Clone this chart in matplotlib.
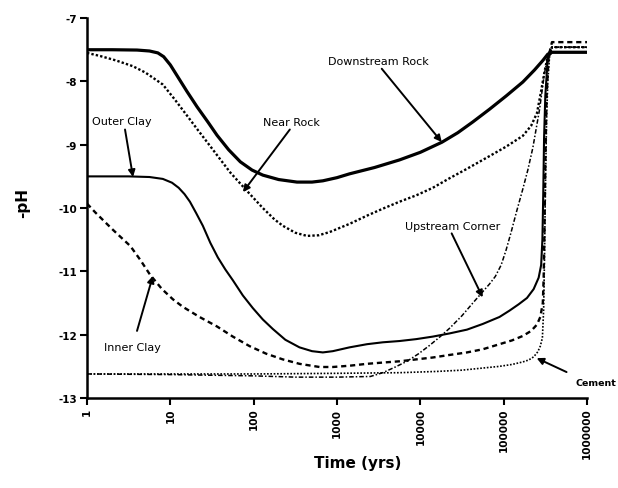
import numpy as np
import matplotlib
matplotlib.use("Agg")
import matplotlib.pyplot as plt

plt.rcParams["axes.unicode_minus"] = False

# Time axis values are given as log10(years)
downstream_rock_logt = [0.0, 0.3, 0.6, 0.75, 0.85, 0.92, 1.0, 1.1, 1.2, 1.32, 1.45, 1.56, 1.7, 1.84,
                        1.98, 2.11, 2.3, 2.52, 2.7, 2.83, 3.0, 3.15, 3.45, 3.75, 4.0, 4.26, 4.45,
                        4.63, 4.83, 5.03, 5.23, 5.37, 5.47, 5.53, 5.58, 6.0]
downstream_rock_ph = [-7.5, -7.5, -7.505, -7.52, -7.55, -7.61, -7.74, -7.95, -8.16, -8.4, -8.64, -8.85,
                      -9.08, -9.27, -9.4, -9.48, -9.55, -9.59, -9.59, -9.57, -9.52, -9.46, -9.36, -9.24,
                      -9.12, -8.96, -8.81, -8.64, -8.44, -8.23, -8.01, -7.82, -7.67, -7.57, -7.54, -7.54]

near_rock_logt = [0.0, 0.16, 0.35, 0.55, 0.7, 0.8, 0.91, 1.05, 1.2, 1.32, 1.5, 1.72, 1.92, 2.11,
                  2.25, 2.35, 2.5, 2.64, 2.78, 2.91, 3.15, 3.36, 3.55, 3.75, 3.95, 4.15, 4.35,
                  4.56, 4.83, 5.03, 5.23, 5.33, 5.40, 5.45, 5.49, 5.53, 5.58, 6.0]
near_rock_ph = [-7.55, -7.6, -7.67, -7.76, -7.86, -7.95, -8.05, -8.28, -8.54, -8.75, -9.06, -9.44,
                -9.73, -10.0, -10.18, -10.28, -10.39, -10.44, -10.43, -10.38, -10.25, -10.12, -10.01,
                -9.9, -9.8, -9.68, -9.53, -9.38, -9.18, -9.03, -8.86, -8.7, -8.5, -8.15, -7.85, -7.6,
                -7.46, -7.46]

outer_clay_logt = [0.0, 0.5, 0.75, 0.91, 1.02, 1.1, 1.17, 1.235, 1.31, 1.39, 1.48, 1.57, 1.66, 1.75,
                   1.87, 1.99, 2.11, 2.23, 2.38, 2.55, 2.7, 2.83, 2.95, 3.15, 3.36, 3.55, 3.75, 3.95,
                   4.15, 4.35, 4.56, 4.75, 4.95, 5.07, 5.18, 5.28, 5.36, 5.42, 5.45, 5.465, 5.475,
                   5.485, 5.5, 5.53, 5.58, 6.0]
outer_clay_ph = [-9.5, -9.5, -9.51, -9.54, -9.6, -9.68, -9.78, -9.9, -10.08, -10.28, -10.55, -10.78,
                 -10.97, -11.14, -11.38, -11.58, -11.76, -11.91, -12.08, -12.2, -12.26, -12.28, -12.26,
                 -12.2, -12.15, -12.12, -12.1, -12.07, -12.03, -11.98, -11.92, -11.83, -11.72, -11.62,
                 -11.52, -11.42, -11.28, -11.1, -10.9, -10.5, -9.8, -8.9, -8.23, -7.62, -7.54, -7.54]

inner_clay_logt = [0.0, 0.1, 0.2, 0.3, 0.43, 0.52, 0.64, 0.755, 0.9, 1.03, 1.15, 1.35, 1.56, 1.75,
                   1.95, 2.15, 2.35, 2.55, 2.79, 2.95, 3.15, 3.36, 3.55, 3.75, 3.95, 4.15, 4.35,
                   4.56, 4.75, 4.95, 5.1, 5.23, 5.33, 5.40, 5.44, 5.47, 5.48, 5.49, 5.50, 5.515,
                   5.54, 5.58, 6.0]
inner_clay_ph = [-9.93, -10.07, -10.2, -10.33, -10.49, -10.6, -10.82, -11.05, -11.28, -11.44, -11.56,
                 -11.72, -11.87, -12.03, -12.18, -12.3, -12.39, -12.46, -12.51, -12.51, -12.49, -12.46,
                 -12.44, -12.42, -12.39, -12.36, -12.32, -12.28, -12.23, -12.15, -12.09, -12.02,
                 -11.94, -11.84, -11.72, -11.5, -11.1, -10.33, -9.3, -8.23, -7.6, -7.38, -7.38]

upstream_corner_logt = [0.0, 1.0, 2.0, 2.5, 3.0, 3.4, 3.55, 3.7, 3.84, 3.98, 4.11, 4.23, 4.35, 4.5,
                        4.63, 4.75, 4.83, 4.9, 4.97, 5.03, 5.09, 5.15, 5.23, 5.29, 5.35, 5.43, 5.49,
                        5.54, 5.58, 6.0]
upstream_corner_ph = [-12.62, -12.63, -12.65, -12.67, -12.67, -12.66, -12.6, -12.51, -12.42, -12.3,
                      -12.17, -12.04, -11.9, -11.7, -11.5, -11.32, -11.2, -11.08, -10.9, -10.66,
                      -10.38, -10.08, -9.7, -9.4, -9.05, -8.45, -7.87, -7.56, -7.46, -7.46]

cement_logt = [0.0, 2.0, 3.0, 3.75, 4.2, 4.5, 4.8, 4.95, 5.1, 5.23, 5.3, 5.36, 5.41, 5.44, 5.465,
               5.48, 5.49, 5.5, 5.515, 5.53, 5.55, 5.58, 6.0]
cement_ph = [-12.62, -12.62, -12.61, -12.6, -12.58, -12.56, -12.52, -12.5, -12.47, -12.43, -12.4,
             -12.35, -12.27, -12.18, -12.05, -11.6, -10.8, -9.8, -8.6, -8.0, -7.62, -7.46, -7.46]

x_ticks = [1, 10, 100, 1000, 10000, 100000, 1000000]
x_tick_labels = ["1", "10", "100", "1000", "10000", "100000", "1000000"]
y_ticks = [-13, -12, -11, -10, -9, -8, -7]
y_tick_labels = ["-13", "-12", "-11", "-10", "-9", "-8", "-7"]


def years(logt):
    return 10.0 ** np.asarray(logt)


fig = plt.figure(figsize=(6.18, 4.89), dpi=100)
ax = fig.add_axes([0.1408, 0.184, 0.809, 0.777])

ax.plot(years(downstream_rock_logt), downstream_rock_ph, color="black", lw=2.3,
        solid_joinstyle="round")
ax.plot(years(outer_clay_logt), outer_clay_ph, color="black", lw=1.5, solid_joinstyle="round")
ax.plot(years(near_rock_logt), near_rock_ph, color="black", lw=1.7, linestyle=(0, (1, 0.9)))
ax.plot(years(inner_clay_logt), inner_clay_ph, color="black", lw=1.7, linestyle=(0, (2.2, 1.6)))
ax.plot(years(upstream_corner_logt), upstream_corner_ph, color="black", lw=1.1,
        linestyle=(0, (3, 1.3, 1, 1.3)))
ax.plot(years(cement_logt), cement_ph, color="black", lw=1.2, linestyle=(0, (1, 1)))

ax.set_xscale("log")
ax.set_xlim(1, 1e6)
ax.set_ylim(-13, -7)
ax.set_xticks(x_ticks)
ax.set_xticklabels(x_tick_labels, rotation=90, fontsize=7.5, fontweight="bold")
ax.set_yticks(y_ticks)
ax.set_yticklabels(y_tick_labels, fontsize=7.5, fontweight="bold")
ax.minorticks_off()
ax.tick_params(axis="both", direction="out", length=5, width=1.5, pad=2, color="black")

for side in ("top", "right"):
    ax.spines[side].set_visible(False)
for side in ("left", "bottom"):
    ax.spines[side].set_linewidth(1.8)

fig.text(0.036, 0.585, "-pH", rotation=90, ha="center", va="center", fontsize=11, fontweight="bold")
fig.text(0.578, 0.053, "Time (yrs)", ha="center", va="center", fontsize=11, fontweight="bold")

# curve labels with pointer arrows (log10 time, -pH)
labels = [
    ("Downstream Rock", (3.50, -7.68), (3.537, -7.80), (4.257, -8.958), "normal", 8),
    ("Near Rock", (2.45, -8.64), (2.434, -8.76), (1.871, -9.748), "normal", 8),
    ("Outer Clay", (0.42, -8.62), (0.456, -8.76), (0.552, -9.51), "normal", 8),
    ("Inner Clay", (0.54, -12.19), (0.600, -11.94), (0.791, -11.07), "normal", 8),
    ("Upstream Corner", (4.39, -10.29), (4.376, -10.40), (4.748, -11.41), "normal", 8),
    ("Cement", (6.11, -12.75), (5.755, -12.59), (5.396, -12.37), "bold", 6.8),
]
for text, text_pos, tail, head, weight, size in labels:
    ax.text(10 ** text_pos[0], text_pos[1], text, ha="center", va="center",
            fontsize=size, fontweight=weight, clip_on=False)
    ax.annotate("", xy=(10 ** head[0], head[1]), xytext=(10 ** tail[0], tail[1]),
                arrowprops=dict(arrowstyle="-|>", color="black", lw=1.4,
                                mutation_scale=10, shrinkA=0, shrinkB=0),
                annotation_clip=False)

fig.savefig("out.png", dpi=100)
